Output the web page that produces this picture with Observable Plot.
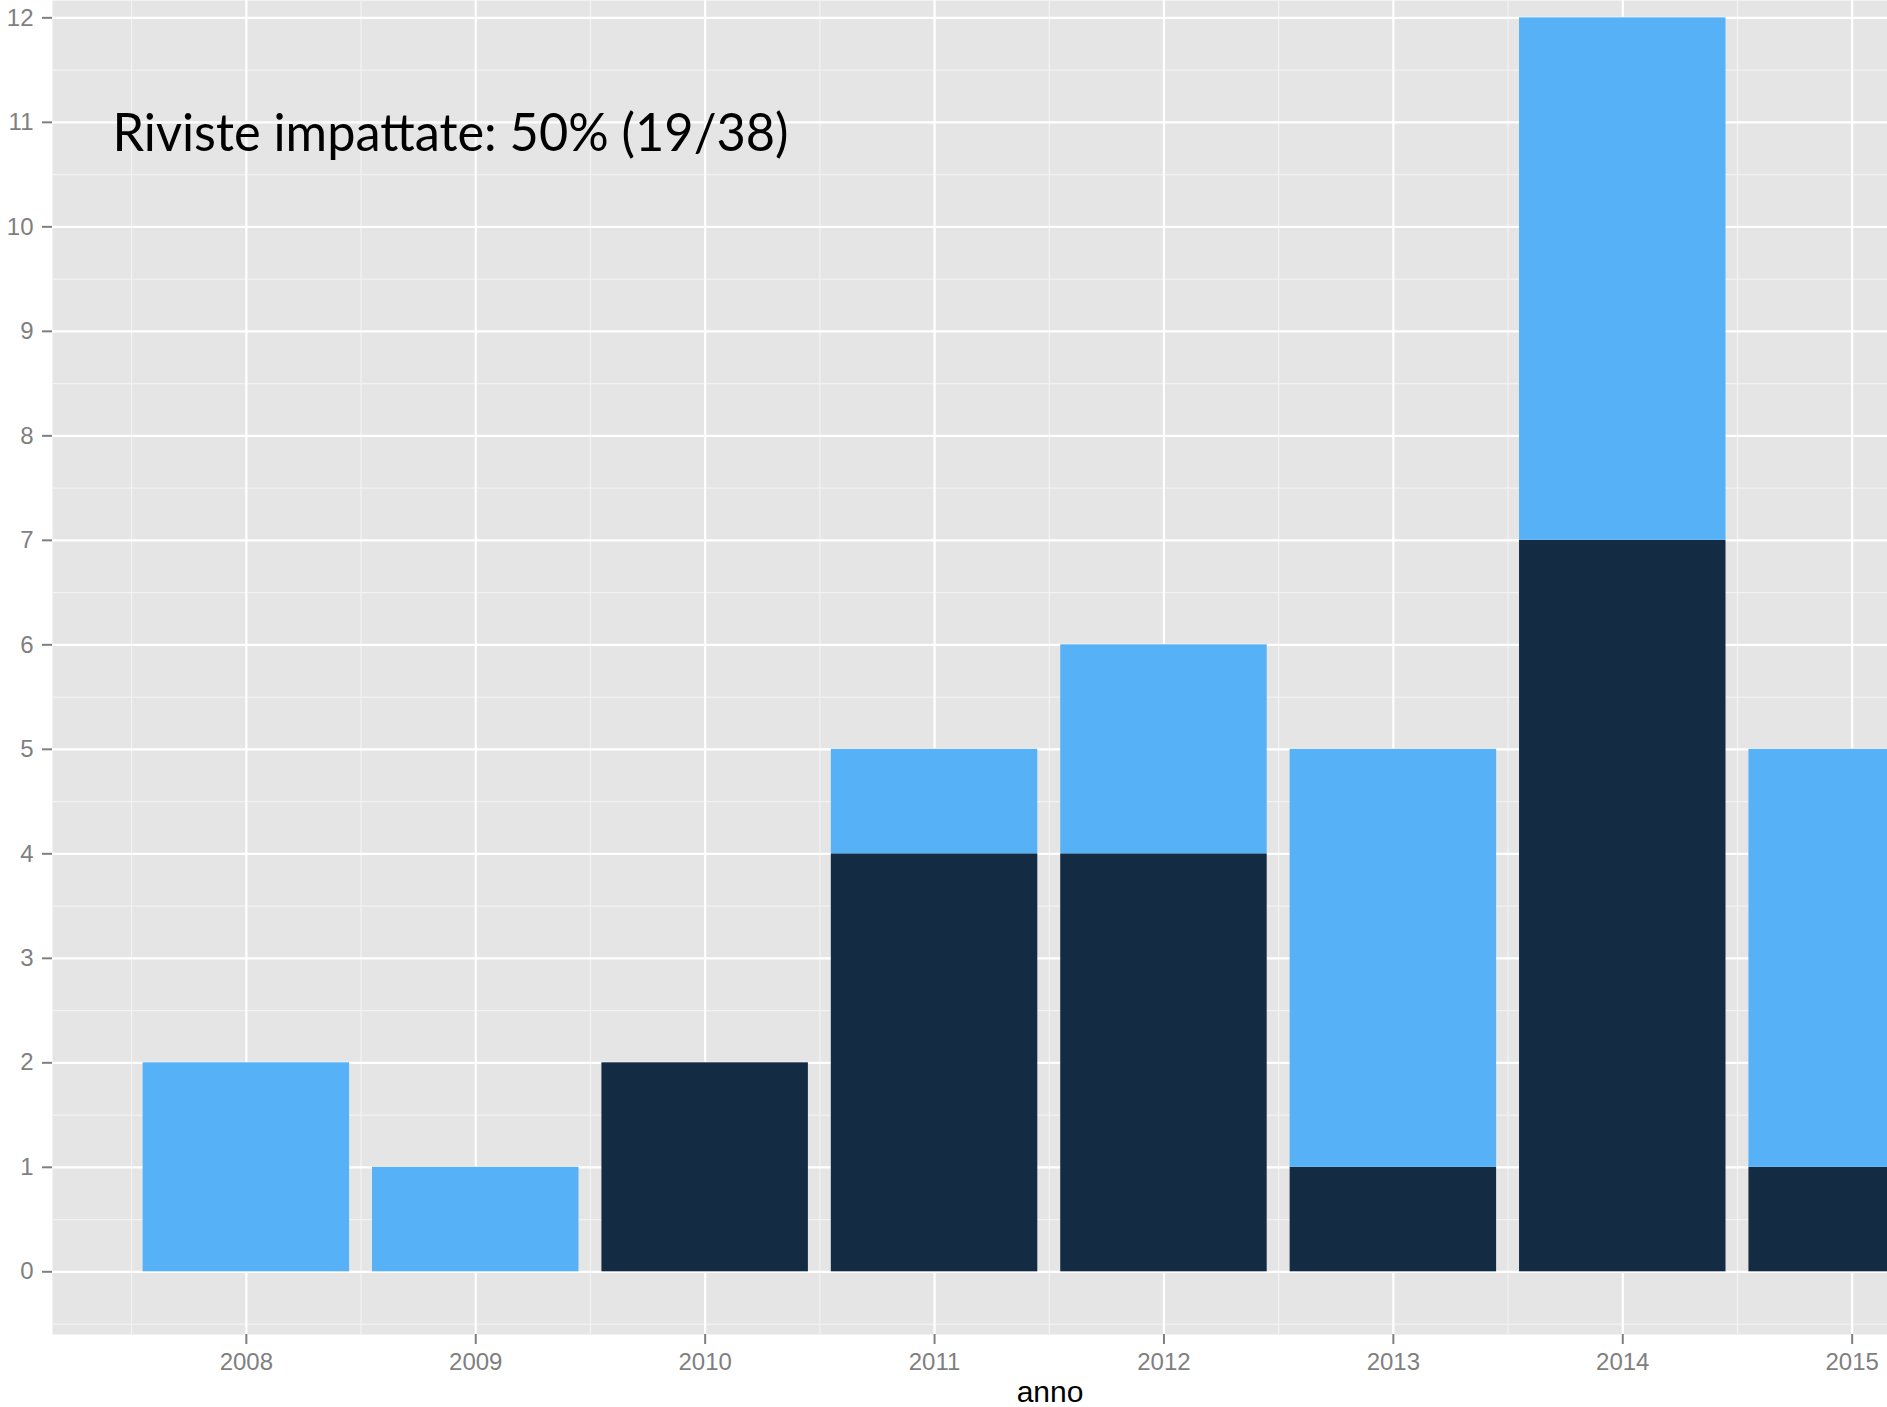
<!DOCTYPE html>
<html>
<head>
<meta charset="utf-8">
<script src="https://cdn.jsdelivr.net/npm/d3@7"></script>
<script src="https://cdn.jsdelivr.net/npm/@observablehq/plot@0.6"></script>
<style>
  body { margin: 0; background: #ffffff; }
  #chart svg { display: block; }
</style>
</head>
<body>
<div id="chart"></div>
<script>
// ---- data ----
const anni = [2008, 2009, 2010, 2011, 2012, 2013, 2014, 2015];
const impattate = [0, 0, 2, 4, 4, 1, 7, 1];        // dark segment (bottom)
const nonImpattate = [2, 1, 0, 1, 2, 4, 5, 4];     // light segment (top)
const yTicks = [0, 1, 2, 3, 4, 5, 6, 7, 8, 9, 10, 11, 12];
const tipi = ["impattate", "non impattate"];
const colori = ["#132B43", "#56B1F7"];
const annotazione = "Riviste impattate: 50% (19/38)";
const titoloX = "anno";

// table for the stacked bars (dark first so it sits at the bottom)
const dati = [];
anni.forEach((a, i) => {
  dati.push({anno: a, tipo: tipi[0], n: impattate[i]});
  dati.push({anno: a, tipo: tipi[1], n: nonImpattate[i]});
});
const barre = dati.filter(d => d.n > 0);

// minor grid positions (half steps)
const yMinor = yTicks.map(v => v - 0.5);
const xMinor = anni.map(v => v - 0.5).concat([anni[anni.length - 1] + 0.5]);

const W = 1887, H = 1407;
const grey = "#7F7F7F";

const chart = Plot.plot({
  width: W,
  height: H,
  marginLeft: 52,
  marginRight: 0,
  marginTop: 0,
  marginBottom: 73,
  style: {fontFamily: "'Liberation Sans', Arial, Helvetica, sans-serif", background: "#ffffff"},
  x: {type: "linear", domain: [2007.155, 2015.154]},
  y: {domain: [-0.6, 12.166]},
  color: {domain: tipi, range: colori},
  marks: [
    Plot.frame({fill: "#E5E5E5", stroke: null}),
    Plot.gridY(yMinor, {stroke: "#F2F2F2", strokeOpacity: 1, strokeWidth: 1.3}),
    Plot.gridX(xMinor, {stroke: "#F2F2F2", strokeOpacity: 1, strokeWidth: 1.3}),
    Plot.gridY(yTicks, {stroke: "#FFFFFF", strokeOpacity: 1, strokeWidth: 2.2}),
    Plot.gridX(anni, {stroke: "#FFFFFF", strokeOpacity: 1, strokeWidth: 2.2}),
    Plot.rectY(barre, {
      x1: d => d.anno - 0.45,
      x2: d => d.anno + 0.45,
      y: "n",
      fill: "tipo",
      clip: true
    }),
    Plot.text([annotazione], {
      frameAnchor: "top-left",
      dx: 60,
      dy: 150,
      lineAnchor: "bottom",
      textAnchor: "start",
      fontSize: 52,
      fontFamily: "Lato, 'Open Sans', sans-serif",
      fill: "#000000",
      className: "annot"
    }),
    Plot.axisY(yTicks, {
      tickSize: 10,
      tickPadding: 9,
      fontSize: 24,
      color: grey,
      strokeWidth: 2,
      tickFormat: "d",
      label: null
    }),
    Plot.axisX(anni, {
      tickSize: 10,
      tickPadding: 8,
      fontSize: 24,
      color: grey,
      strokeWidth: 2,
      tickFormat: "d",
      label: null
    }),
    Plot.text([titoloX], {
      frameAnchor: "bottom",
      dx: 80,
      dy: 67,
      lineAnchor: "bottom",
      fontSize: 30,
      fill: "#000000"
    })
  ]
});

// condense the annotation slightly to match the narrower original typeface
chart.querySelectorAll(".annot text").forEach(t => {
  t.setAttribute("textLength", 676);
  t.setAttribute("lengthAdjust", "spacingAndGlyphs");
});

document.getElementById("chart").appendChild(chart);
</script>
</body>
</html>
